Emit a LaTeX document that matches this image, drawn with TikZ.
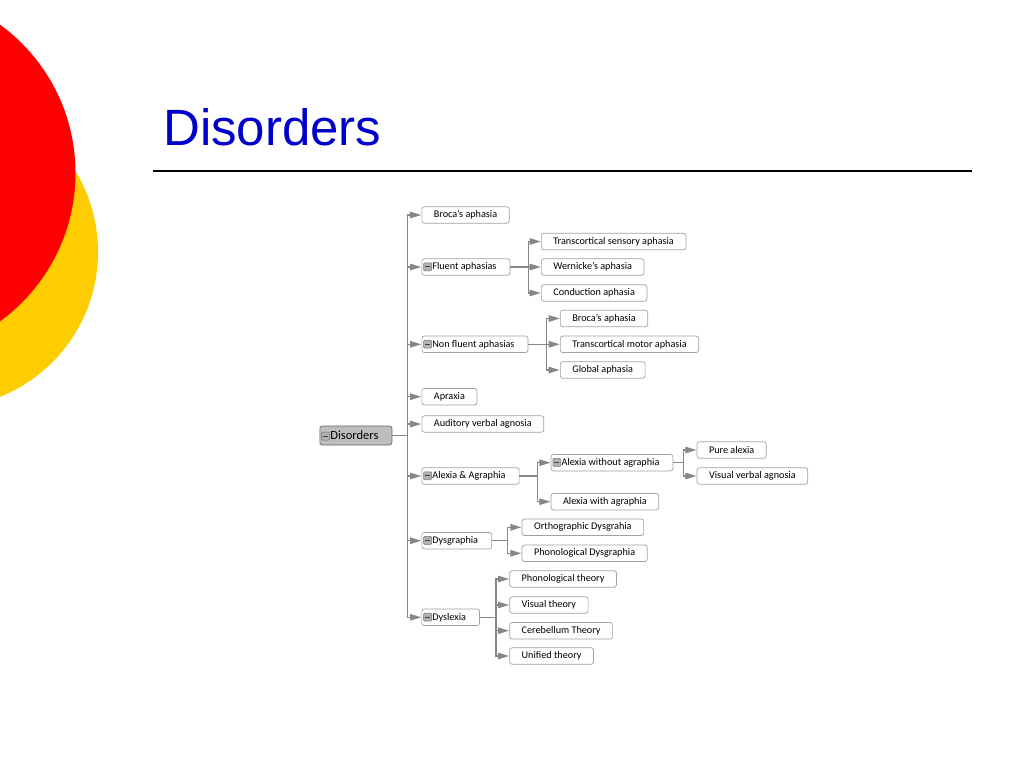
\documentclass[tikz,border=0pt]{standalone}
\usepackage{fontspec}
\setmainfont{Carlito}
\newfontfamily\titlefont{Liberation Sans}
\usepackage{tikz}
\usetikzlibrary{arrows.meta}
\definecolor{titleblue}{RGB}{0,0,204}
\definecolor{sunred}{RGB}{255,0,0}
\definecolor{sunyellow}{RGB}{255,204,0}
\definecolor{linkgray}{RGB}{135,135,135}
\definecolor{boxgray}{RGB}{160,160,160}
\definecolor{rootgray}{RGB}{190,190,190}
\newcommand{\minusicon}{%
	\tikz[baseline=0pt]{\draw[black!55, fill=black!30, rounded corners=1pt, line width=0.5pt] (0pt,-1pt) rectangle (8pt,7pt); \draw[black!75, line width=0.8pt] (1.5pt,3pt) -- (6.5pt,3pt);}%
}
\tikzset{
	topic/.style={draw=boxgray, fill=white, line width=0.7pt, rounded corners=2.5pt, anchor=west, minimum height=16.5pt, inner ysep=0pt, inner xsep=12pt, font=\fontsize{10.2}{12}\selectfont},
	branch/.style={topic, inner xsep=1.5pt, execute at begin node={\minusicon\hspace{0.5pt}}, execute at end node={\hspace{12pt}}},
	rootbox/.style={branch, fill=rootgray, draw=black!60, minimum height=19pt, font=\fontsize{12.5}{14}\selectfont},
	link/.style={draw=linkgray, line width=1.1pt, -{Triangle[length=11pt,width=6.5pt]}, shorten >=0.3pt}
}

\begin{document}
\begin{tikzpicture}[x=1pt, y=-1pt]
\useasboundingbox (0,0) rectangle (1024,768);
\clip (0,0) rectangle (1024,768);

% Draw corner discs
\fill[sunyellow] (-58,252) circle[radius=156];
\fill[sunred] (-108,173) circle[radius=183.5];

% Draw title and rule
\node[anchor=base west, inner sep=0pt, text=titleblue, font=\titlefont\fontsize{51}{60}\selectfont] (title) at (163,145.7) {Disorders};
\draw[black, line width=1.2pt] (153,171) -- (972,171);

% Draw topics
\node[rootbox] (root) at (319.5,435.5) {Disorders};

\node[topic]  (broca)    at (421.5,215)   {Broca's aphasia};
\node[branch] (fluent)   at (421.5,267)   {Fluent aphasias};
\node[topic]  (tsa)      at (541,241.5)   {Transcortical sensory aphasia};
\node[topic]  (wern)     at (541,267)     {Wernicke's aphasia};
\node[topic]  (cond)     at (541,293)     {Conduction aphasia};
\node[branch] (nonfl)    at (421.5,344.3) {Non fluent aphasias};
\node[topic]  (brocb)    at (560,318.5)   {Broca's aphasia};
\node[topic]  (tma)      at (560,344.3)   {Transcortical motor aphasia};
\node[topic]  (glob)     at (560,370)     {Global aphasia};
\node[topic]  (aprax)    at (421.5,396.7) {Apraxia};
\node[topic]  (ava)      at (421.5,424)   {Auditory verbal agnosia};
\node[branch] (alexagr)  at (421.5,476)   {Alexia \& Agraphia};
\node[branch] (alexwo)   at (550.7,462.7) {Alexia without agraphia};
\node[topic]  (purealex) at (696.7,450)   {Pure alexia};
\node[topic]  (vva)      at (696.7,476)   {Visual verbal agnosia};
\node[topic]  (alexwi)   at (550.7,501.7) {Alexia with agraphia};
\node[branch] (dysgr)    at (421.5,540.7) {Dysgraphia};
\node[topic]  (ortho)    at (521.7,527.3) {Orthographic Dysgrahia};
\node[topic]  (phondg)   at (521.7,553.3) {Phonological Dysgraphia};
\node[branch] (dyslex)   at (421.5,617.3) {Dyslexia};
\node[topic]  (phonth)   at (509.3,579)   {Phonological theory};
\node[topic]  (visth)    at (509.3,605)   {Visual theory};
\node[topic]  (cereb)    at (509.3,630.7) {Cerebellum Theory};
\node[topic]  (unif)     at (509.3,656)   {Unified theory};

% Draw forks
\coordinate (froot) at (407.7,435.5);
\coordinate (ffl) at (528.3,267);
\coordinate (fnf) at (546.7,344.3);
\coordinate (fal) at (537.3,476);
\coordinate (faw) at (683.3,462.7);
\coordinate (fdg) at (507.3,540.7);
\coordinate (fdl) at (496,617.3);

% Draw links
\foreach \c in {broca,fluent,nonfl,aprax,ava,alexagr,dysgr,dyslex}
	\draw[link] (root.east) -- (froot) |- (\c.west);
\foreach \c in {tsa,wern,cond}
	\draw[link] (fluent.east) -- (ffl) |- (\c.west);
\foreach \c in {brocb,tma,glob}
	\draw[link] (nonfl.east) -- (fnf) |- (\c.west);
\foreach \c in {alexwo,alexwi}
	\draw[link] (alexagr.east) -- (fal) |- (\c.west);
\foreach \c in {purealex,vva}
	\draw[link] (alexwo.east) -- (faw) |- (\c.west);
\foreach \c in {ortho,phondg}
	\draw[link] (dysgr.east) -- (fdg) |- (\c.west);
\foreach \c in {phonth,visth,cereb,unif}
	\draw[link] (dyslex.east) -- (fdl) |- (\c.west);
\end{tikzpicture}
\end{document}
